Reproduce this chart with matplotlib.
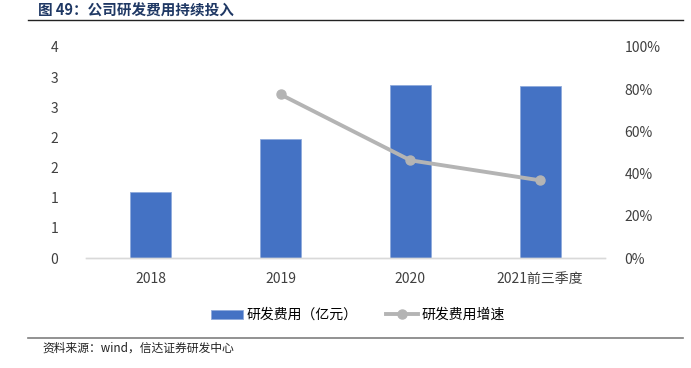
import matplotlib.pyplot as plt
from matplotlib.lines import Line2D
from matplotlib.patches import Patch
import numpy as np

plt.rcParams["font.family"] = ["Noto Sans CJK SC", "DejaVu Sans"]

categories = ["2018", "2019", "2020", "2021前三季度"]
rd_expense = [1.10, 1.97, 2.87, 2.86]          # 亿元
rd_growth = [None, 77.5, 46.3, 36.8]           # %

BLUE = "#4472C4"
GREY = "#B4B4B4"

W, H = 691, 368
fig = plt.figure(figsize=(W / 100, H / 100), dpi=100)

# axes box in pixel coords
left, right, top, bottom = 86, 605, 47, 258
ax = fig.add_axes([left / W, 1 - bottom / H, (right - left) / W, (bottom - top) / H])
ax2 = ax.twinx()

x = np.arange(len(categories))
ax.bar(x, rd_expense, width=0.315, color=BLUE, edgecolor="#8FAADC", linewidth=0.6, zorder=2)

gx = [i for i, v in enumerate(rd_growth) if v is not None]
gy = [v for v in rd_growth if v is not None]
ax2.plot(gx, gy, color=GREY, linewidth=2.8, marker="o", markersize=6.5, zorder=3)

ax.set_xlim(-0.5, len(categories) - 0.5)
ax.set_ylim(0, 3.5)
yt = np.arange(0, 3.51, 0.5)
ax.set_yticks(yt)
# excel-style rounding (half up)
ax.set_yticklabels([str(int(v + 0.5)) for v in yt])
ax2.set_ylim(0, 100)
ax2.set_yticks(np.arange(0, 101, 20))
ax2.set_yticklabels([f"{v}%" for v in range(0, 101, 20)])

ax.set_xticks(x)
ax.set_xticklabels(categories)

for a in (ax, ax2):
    for s in ("top", "left", "right"):
        a.spines[s].set_visible(False)
    a.spines["bottom"].set_color("#D9D9D9")
    a.spines["bottom"].set_linewidth(1.0)
    a.tick_params(length=0, labelsize=10, colors="#404040")
ax.tick_params(axis="y", pad=20)
ax.tick_params(axis="x", pad=10)
ax2.tick_params(axis="y", pad=14)
ax2.set_zorder(ax.get_zorder() + 1)
ax2.patch.set_visible(False)

# title and rules
fig.text(38 / W, 1 - 11 / H, "图 49：公司研发费用持续投入", fontsize=10.5, fontweight="bold",
         color="#1F3864", va="center", ha="left")
fig.add_artist(Line2D([28 / W, 683 / W], [1 - 20 / H, 1 - 20 / H], color="#222222", linewidth=1.0))
fig.add_artist(Line2D([28 / W, 683 / W], [1 - 337.5 / H, 1 - 337.5 / H], color="#7F7F7F", linewidth=1.2))
fig.text(42 / W, 1 - 348 / H, "资料来源：wind，信达证券研发中心", fontsize=8.5, style="italic",
         color="#222222", va="center", ha="left")

# legend
handles = [
    Patch(facecolor=BLUE, edgecolor="#8FAADC", linewidth=0.6),
    Line2D([0], [0], color=GREY, linewidth=2.8, marker="o", markersize=6.5),
]
fig.legend(handles, ["研发费用（亿元）", "研发费用增速"], loc="center",
           bbox_to_anchor=(358 / W, 1 - 315 / H), ncol=2, frameon=False, fontsize=10,
           handlelength=2.3, handleheight=0.6, columnspacing=2.0, handletextpad=0.3)

fig.savefig("out.png", dpi=100)
